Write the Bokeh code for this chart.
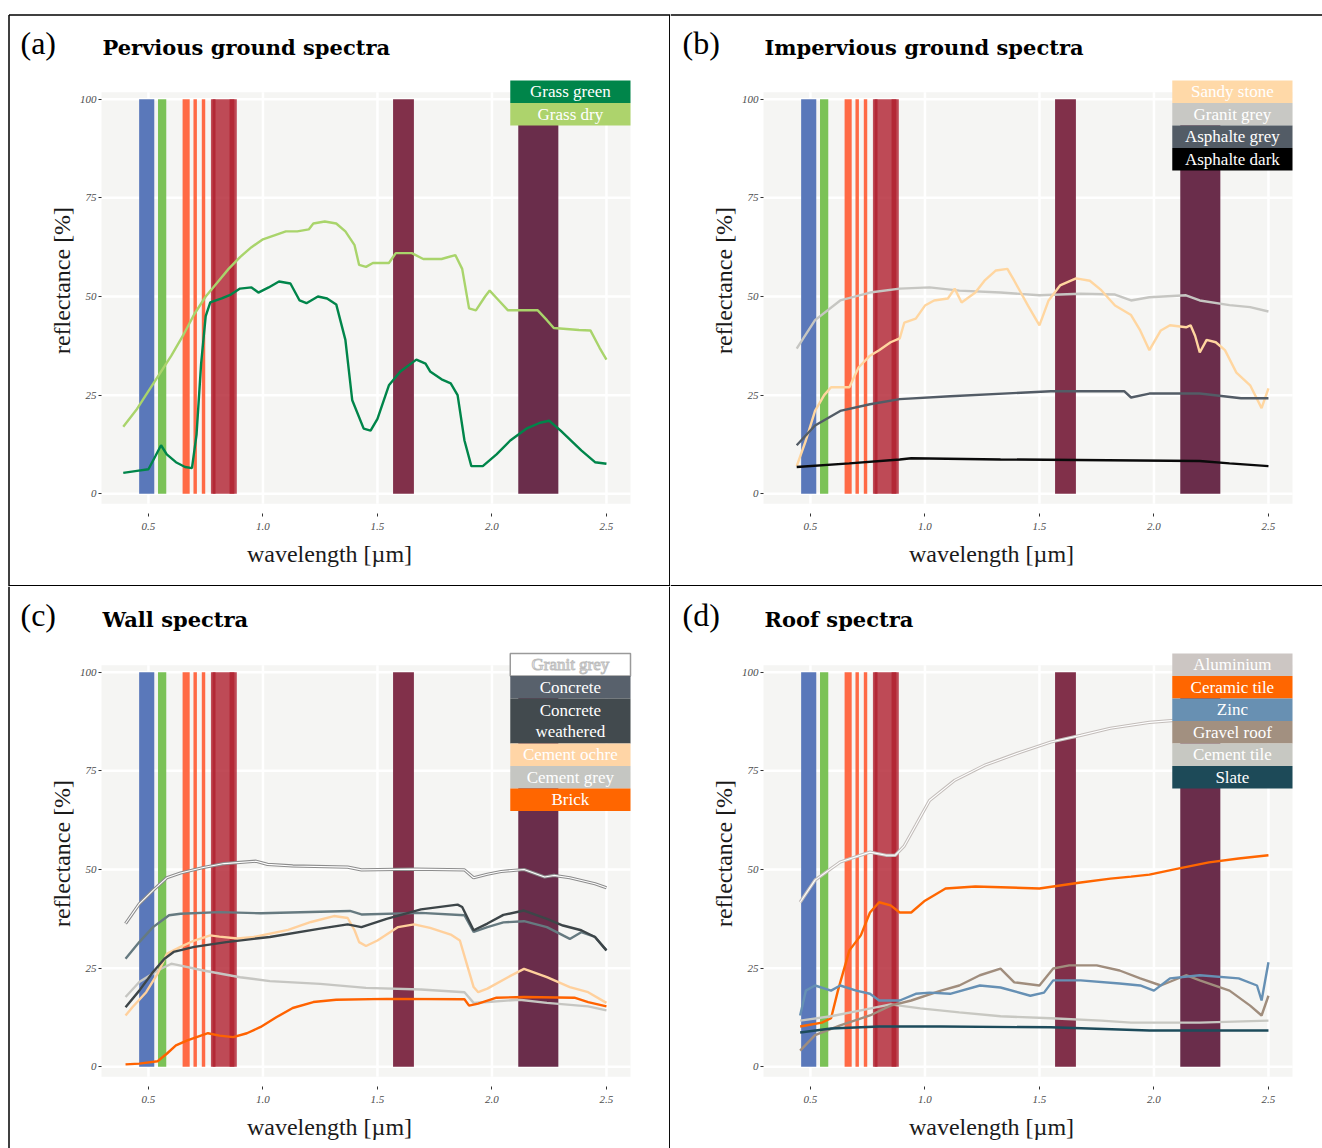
import numpy as np
from bokeh.plotting import figure
from bokeh.layouts import gridplot
from bokeh.models import Range1d, FixedTicker, NumeralTickFormatter
from bokeh.core.properties import value
from bokeh.embed import file_html
from bokeh.resources import INLINE

SERIF = "Liberation Serif"
TITLE_FONT = "DejaVu Serif"
PANEL_BG = "#F5F5F3"

# ---------------------------------------------------------------- data
# Sentinel-2 MSI band limits [µm] (B2, B3, B4, B5, B6, B8, B7, B8A, B11, B12)
band_lo = [0.4594, 0.5418, 0.6491, 0.6966, 0.7330, 0.7798, 0.7728, 0.8542, 1.5682, 2.1149]
band_hi = [0.5254, 0.5778, 0.6801, 0.7116, 0.7480, 0.8858, 0.7928, 0.8752, 1.6592, 2.2899]
band_colors = ["#5A78BA", "#7BC257", "#FF6A45", "#FF6A45", "#FF6A45",
               "#B01F2E", "#B01F2E", "#B01F2E", "#81304A", "#6A2D4B"]
band_alpha = [1, 1, 1, 1, 1, 0.8, 0.8, 0.8, 1, 1]

x_ticks = [0.5, 1.0, 1.5, 2.0, 2.5]
y_ticks = [0, 25, 50, 75, 100]

# (a) pervious ground
wl_grass_green = [0.39, 0.45, 0.50, 0.53, 0.555, 0.58, 0.62, 0.66, 0.69, 0.71, 0.73, 0.75, 0.77,
                  0.82, 0.86, 0.90, 0.95, 0.98, 1.025, 1.07, 1.12, 1.16, 1.19, 1.24, 1.28, 1.32,
                  1.36, 1.39, 1.44, 1.47, 1.50, 1.55, 1.60, 1.67, 1.71, 1.73, 1.78, 1.82, 1.85,
                  1.88, 1.91, 1.96, 2.02, 2.08, 2.15, 2.21, 2.25, 2.30, 2.39, 2.45, 2.50]
rf_grass_green = [5.3, 5.8, 6.2, 9.5, 12.3, 10.0, 8.0, 6.8, 6.5, 15.0, 33.0, 45.0, 48.5,
                  49.5, 50.5, 52.0, 52.3, 51.0, 52.3, 53.8, 53.3, 49.0, 48.3, 50.0, 49.5, 48.0,
                  39.0, 23.7, 16.5, 16.0, 19.0, 27.5, 31.0, 34.0, 33.0, 31.0, 29.0, 28.0, 25.0,
                  13.5, 7.0, 7.0, 10.0, 13.5, 16.5, 18.0, 18.5, 16.0, 11.0, 8.0, 7.6]
wl_grass_dry = [0.39, 0.45, 0.50, 0.55, 0.60, 0.65, 0.70, 0.75, 0.80, 0.85, 0.90, 0.95, 1.00,
                1.05, 1.10, 1.15, 1.20, 1.22, 1.27, 1.32, 1.36, 1.40, 1.42, 1.45, 1.48, 1.55,
                1.58, 1.65, 1.70, 1.78, 1.84, 1.87, 1.90, 1.93, 1.97, 1.99, 2.03, 2.07, 2.20,
                2.24, 2.27, 2.38, 2.43, 2.47, 2.50]
rf_grass_dry = [17.0, 21.5, 26.0, 30.5, 35.0, 40.0, 45.5, 50.0, 53.5, 57.0, 60.0, 62.5, 64.5,
                65.5, 66.5, 66.5, 67.0, 68.5, 69.0, 68.5, 66.5, 63.0, 58.0, 57.5, 58.5, 58.5,
                61.0, 61.0, 59.5, 59.5, 60.5, 57.0, 47.0, 46.5, 50.0, 51.5, 49.0, 46.5, 46.5,
                44.0, 42.0, 41.5, 41.4, 37.0, 34.0]

# (b) impervious ground
wl_sandy_stone = [0.44, 0.48, 0.52, 0.56, 0.59, 0.67, 0.71, 0.76, 0.80, 0.85, 0.89, 0.91, 0.96,
                  1.00, 1.04, 1.10, 1.13, 1.16, 1.22, 1.26, 1.31, 1.36, 1.39, 1.45, 1.50, 1.54,
                  1.59, 1.66, 1.72, 1.77, 1.83, 1.90, 1.94, 1.98, 2.03, 2.07, 2.14, 2.16, 2.18,
                  2.20, 2.23, 2.27, 2.31, 2.36, 2.42, 2.47, 2.50]
rf_sandy_stone = [7.0, 13.5, 21.0, 25.0, 27.0, 27.0, 32.0, 35.0, 36.4, 38.4, 39.4, 43.4, 44.4,
                  47.7, 49.0, 49.5, 52.0, 48.5, 51.0, 54.0, 56.6, 57.0, 54.0, 47.7, 42.7, 49.0,
                  52.8, 54.6, 54.0, 51.6, 47.7, 45.3, 41.4, 36.4, 41.4, 42.7, 42.2, 42.7, 40.0,
                  35.8, 39.0, 38.4, 36.4, 30.7, 27.5, 21.7, 26.7]
wl_granit_grey = [0.44, 0.52, 0.63, 0.76, 0.89, 1.02, 1.15, 1.33, 1.50, 1.68, 1.83, 1.90, 1.98,
                  2.14, 2.20, 2.33, 2.42, 2.50]
rf_granit_grey = [36.8, 44.0, 49.0, 51.0, 52.0, 52.3, 51.5, 51.0, 50.3, 50.7, 50.5, 49.0, 49.8,
                  50.3, 49.0, 47.8, 47.3, 46.2]
wl_asph_grey = [0.44, 0.52, 0.63, 0.76, 0.89, 1.11, 1.55, 1.87, 1.90, 1.98, 2.20, 2.38, 2.50]
rf_asph_grey = [12.3, 17.3, 21.0, 22.7, 24.0, 24.7, 26.0, 26.0, 24.4, 25.4, 25.4, 24.2, 24.2]
wl_asph_dark = [0.44, 0.67, 0.89, 0.94, 1.33, 2.20, 2.33, 2.50]
rf_asph_dark = [6.8, 7.7, 8.7, 9.0, 8.7, 8.3, 7.7, 7.0]

# (c) walls
wl_wall_granit = [0.40, 0.46, 0.52, 0.58, 0.64, 0.74, 0.83, 0.97, 1.02, 1.13, 1.37, 1.43, 1.66,
                  1.88, 1.92, 1.98, 2.04, 2.14, 2.23, 2.27, 2.34, 2.45, 2.50]
rf_wall_granit = [36.3, 41.3, 44.7, 47.9, 49.1, 50.5, 51.5, 52.1, 51.3, 50.9, 50.6, 49.9, 50.1,
                  49.9, 47.9, 48.8, 49.5, 50.0, 48.1, 48.5, 47.9, 46.4, 45.4]
wl_concrete = [0.40, 0.46, 0.52, 0.59, 0.64, 0.81, 0.99, 1.38, 1.43, 1.69, 1.88, 1.92, 1.98,
               2.05, 2.14, 2.24, 2.34, 2.39, 2.45, 2.50]
rf_concrete = [27.4, 31.6, 35.4, 38.4, 38.8, 39.2, 38.9, 39.5, 38.6, 39.0, 38.4, 34.2, 35.4,
               36.6, 36.9, 35.4, 32.4, 34.1, 32.9, 29.5]
wl_concrete_w = [0.40, 0.46, 0.52, 0.57, 0.61, 0.70, 0.84, 1.03, 1.25, 1.37, 1.43, 1.54, 1.69,
                 1.85, 1.87, 1.92, 1.98, 2.05, 2.14, 2.24, 2.31, 2.39, 2.45, 2.50]
rf_concrete_w = [15.1, 19.3, 24.0, 27.4, 29.1, 30.4, 31.6, 32.9, 35.0, 36.1, 35.4, 37.5, 39.9,
                 41.1, 40.5, 34.6, 36.3, 38.5, 39.6, 37.5, 35.8, 34.6, 32.9, 29.5]
wl_cement_ochre = [0.40, 0.43, 0.49, 0.54, 0.58, 0.64, 0.70, 0.77, 0.81, 0.89, 0.96, 1.11, 1.21,
                   1.31, 1.37, 1.40, 1.42, 1.45, 1.50, 1.59, 1.66, 1.73, 1.82, 1.86, 1.89, 1.92,
                   1.94, 1.98, 2.07, 2.14, 2.24, 2.34, 2.42, 2.50]
rf_cement_ochre = [13.0, 15.1, 18.9, 23.6, 28.6, 30.4, 32.0, 33.3, 33.0, 32.5, 32.9, 34.7, 36.7,
                   38.2, 37.7, 34.6, 31.6, 30.6, 32.0, 35.4, 36.1, 35.2, 33.5, 32.0, 26.1, 20.2,
                   18.9, 19.8, 22.7, 24.8, 22.7, 20.2, 18.9, 16.2]
wl_cement_grey = [0.40, 0.46, 0.54, 0.60, 0.62, 0.74, 0.90, 1.03, 1.25, 1.45, 1.69, 1.88, 1.92,
                  1.98, 2.12, 2.24, 2.42, 2.50]
rf_cement_grey = [17.7, 21.5, 24.4, 26.1, 25.9, 24.4, 22.7, 21.7, 21.0, 20.0, 19.6, 18.9, 16.2,
                  16.4, 17.0, 16.2, 15.3, 14.3]
wl_brick = [0.40, 0.46, 0.54, 0.58, 0.62, 0.67, 0.76, 0.81, 0.87, 0.93, 0.99, 1.06, 1.13, 1.22,
            1.32, 1.54, 1.88, 1.90, 1.94, 2.02, 2.14, 2.36, 2.42, 2.50]
rf_brick = [0.6, 0.8, 1.4, 3.3, 5.4, 6.7, 8.5, 7.9, 7.5, 8.5, 10.1, 12.6, 14.9, 16.4,
            17.0, 17.2, 17.1, 15.5, 16.0, 17.5, 17.7, 17.5, 16.4, 15.3]

# (d) roofs
wl_aluminium = [0.455, 0.52, 0.63, 0.76, 0.83, 0.87, 0.91, 0.96, 1.02, 1.13, 1.26, 1.42, 1.55,
                1.68, 1.81, 1.98, 2.09, 2.20, 2.35, 2.50]
rf_aluminium = [41.7, 47.3, 51.9, 54.4, 53.6, 53.6, 56.0, 61.2, 67.5, 72.6, 76.4, 79.8, 82.3,
                84.0, 85.8, 87.3, 87.8, 87.8, 89.0, 89.0]
wl_ceramic = [0.455, 0.55, 0.59, 0.62, 0.67, 0.72, 0.76, 0.80, 0.85, 0.89, 0.94, 1.00, 1.09,
              1.22, 1.50, 1.68, 1.81, 1.90, 1.98, 2.11, 2.24, 2.37, 2.50]
rf_ceramic = [10.2, 11.2, 12.3, 19.3, 29.5, 33.3, 39.1, 41.7, 40.9, 39.1, 39.1, 42.1, 45.2,
              45.7, 45.2, 46.7, 47.7, 48.2, 48.7, 50.3, 51.8, 52.8, 53.6]
wl_zinc = [0.455, 0.48, 0.52, 0.59, 0.63, 0.70, 0.76, 0.80, 0.89, 0.96, 1.02, 1.11, 1.24, 1.33,
           1.46, 1.52, 1.56, 1.68, 1.85, 1.94, 2.00, 2.07, 2.20, 2.37, 2.45, 2.47, 2.50]
rf_zinc = [13.0, 19.3, 20.6, 19.3, 20.6, 19.3, 18.5, 16.8, 16.8, 18.5, 18.8, 18.5, 20.6, 20.1,
           18.0, 18.8, 21.9, 21.9, 21.1, 20.6, 19.3, 22.4, 23.2, 22.4, 20.6, 16.8, 26.5]
wl_gravel = [0.455, 0.52, 0.63, 0.76, 0.85, 0.94, 1.07, 1.15, 1.24, 1.33, 1.39, 1.50, 1.56,
             1.63, 1.75, 1.85, 1.94, 2.03, 2.14, 2.20, 2.33, 2.42, 2.47, 2.50]
rf_gravel = [4.1, 8.0, 10.5, 13.0, 15.5, 16.8, 19.3, 20.6, 23.2, 24.9, 21.4, 20.6, 24.9,
             25.7, 25.7, 24.4, 22.4, 20.6, 23.2, 21.9, 19.3, 15.5, 13.0, 18.0]
wl_cement_tile = [0.455, 0.59, 0.72, 0.85, 0.98, 1.15, 1.33, 1.55, 1.77, 1.90, 2.20, 2.50]
rf_cement_tile = [11.7, 12.8, 14.3, 15.8, 14.8, 13.8, 12.8, 12.3, 11.7, 11.2, 11.2, 11.7]
wl_slate = [0.455, 0.59, 0.80, 1.07, 1.55, 1.98, 2.20, 2.50]
rf_slate = [8.7, 9.7, 10.2, 10.2, 10.0, 9.2, 9.2, 9.2]

# legend entries per panel: label, box colour
legend_a = [("Grass green", "#00854A"), ("Grass dry", "#ADD36C")]
legend_b = [("Sandy stone", "#FFD9A8"), ("Granit grey", "#C8C8C4"),
            ("Asphalte grey", "#535C66"), ("Asphalte dark", "#000000")]
legend_c = [("Granit grey", "#FFFFFF"), ("Concrete", "#58616C"),
            ("Concrete\nweathered", "#424A4E"), ("Cement ochre", "#FFD5A6"),
            ("Cement grey", "#C5C6C2"), ("Brick", "#FF6600")]
legend_d = [("Aluminium", "#CCC6C3"), ("Ceramic tile", "#FF6600"), ("Zinc", "#6890B2"),
            ("Gravel roof", "#A29080"), ("Cement tile", "#C7C8C2"), ("Slate", "#1D4A58")]

# ---------------------------------------------------------------- layout
FW, FH = 529, 434                 # size of the shaded plotting area in px
X0, X1 = 0.295, 2.605             # data limits of that area
Y0, Y1 = -5.0, 105.0
ROW_H = 5.70                      # legend row height in data units


def to_data(cx, cy, fl, ft):
    """Canvas pixel -> data coordinates for a panel whose plotting area starts at (fl, ft)."""
    return (X0 + (cx - fl) * (X1 - X0) / FW, Y1 - (cy - ft) * (Y1 - Y0) / FH)


def add_text(p, x, y, txt, size, font=SERIF, **kw):
    opts = dict(text_font=value(font), text_font_size=size, text_color="black",
                text_baseline="middle")
    opts.update(kw)
    p.text(x=[x], y=[y], text=[txt], **opts)


def make_panel(tag, title, series, legend, width, height, fl, ft, box_left, box_top, borders):
    kx = (X1 - X0) / FW
    ky = (Y1 - Y0) / FH
    xr = Range1d(X0 - fl * kx, X1 + (width - fl - FW) * kx)
    yr = Range1d(Y0 - (height - ft - FH) * ky, Y1 + ft * ky)
    p = figure(width=width, height=height, min_border=0, x_range=xr, y_range=yr,
               output_backend="svg", toolbar_location=None)
    p.background_fill_color = "white"
    p.border_fill_color = "white"
    p.outline_line_color = None
    p.grid.visible = False

    # axes sit on the edges of the shaded area
    p.xaxis.fixed_location = Y0
    p.yaxis.fixed_location = X0
    p.xaxis.ticker = FixedTicker(ticks=x_ticks)
    p.xaxis.formatter = NumeralTickFormatter(format="0.0")
    p.yaxis.ticker = FixedTicker(ticks=y_ticks)
    for ax in (p.xaxis[0], p.yaxis[0]):
        ax.axis_line_color = None
        ax.major_tick_line_color = "#333333"
        ax.major_tick_in = 0
        ax.major_tick_out = 3
        ax.minor_tick_line_color = None
        ax.major_label_text_font = SERIF
        ax.major_label_text_font_style = "italic"
        ax.major_label_text_font_size = "11px"
        ax.major_label_text_color = "#4D4D4D"
    p.xaxis.major_label_standoff = 6
    p.yaxis.major_label_standoff = 2

    # shaded panel and white grid
    p.quad(left=X0, right=X1, bottom=-2.5, top=101.8, fill_color=PANEL_BG, line_color=None)
    p.segment(x0=x_ticks, y0=-2.5, x1=x_ticks, y1=101.8, line_color="white", line_width=2.5)
    p.segment(x0=X0, y0=y_ticks, x1=X1, y1=y_ticks, line_color="white", line_width=2.5)

    # satellite bands
    p.quad(left=band_lo, right=band_hi, bottom=0, top=100,
           fill_color=band_colors, fill_alpha=band_alpha, line_color=None)

    # spectra
    for wl, rf, col, core in series:
        p.line(wl, rf, line_color=col, line_width=2.4 if core is None else 3.2)
        if core is not None:
            p.line(wl, rf, line_color=core, line_width=1.1)

    # legend boxes
    tops, bots, ys_c = [], [], []
    top = to_data(0, ft + 1, fl, ft)[1]
    for lab, col in legend:
        n = lab.count("\n") + 1
        tops.append(top)
        bots.append(top - n * ROW_H)
        ys_c.append(top - n * ROW_H / 2)
        top -= n * ROW_H
    lx0 = 2.08
    fills = [c for _, c in legend]
    edges = ["#9A9A9A" if c == "#FFFFFF" else None for c in fills]
    p.quad(left=lx0, right=X1, top=tops, bottom=bots, fill_color=fills,
           line_color=edges, line_width=1.5)
    xc = (lx0 + X1) / 2
    for (lab, col), yc in zip(legend, ys_c):
        kw = dict(text_color="white", text_align="center", text_line_height=1.1)
        if col == "#FFFFFF":
            kw["text_outline_color"] = "#BDBDBD"
        add_text(p, xc, yc, lab, "17px", **kw)

    # panel tag, title and axis titles
    add_text(p, *to_data(box_left + 12, box_top + 28, fl, ft), tag, "32px")
    add_text(p, *to_data(fl + 1, box_top + 33, fl, ft), title, "21px", font=TITLE_FONT,
             text_font_style="bold")
    add_text(p, *to_data(fl + 228, ft + FH + 40, fl, ft), "wavelength [µm]", "24px",
             text_align="center", text_color="#1A1A1A")
    add_text(p, *to_data(box_left + 53, ft + 201, fl, ft), "reflectance [%]", "24px",
             text_align="center", text_color="#1A1A1A", angle=np.pi / 2)

    # frame lines between the panels
    for cx0, cy0, cx1, cy1 in borders:
        xa, ya = to_data(cx0, cy0, fl, ft)
        xb, yb = to_data(cx1, cy1, fl, ft)
        p.segment(x0=[xa], y0=[ya], x1=[xb], y1=[yb], line_color="black", line_width=1.5)
    return p


series_a = [(wl_grass_dry, rf_grass_dry, "#A9D46B", None),
            (wl_grass_green, rf_grass_green, "#00854A", None)]
series_b = [(wl_granit_grey, rf_granit_grey, "#C6C6C2", None),
            (wl_sandy_stone, rf_sandy_stone, "#FFD6A0", None),
            (wl_asph_grey, rf_asph_grey, "#535C66", None),
            (wl_asph_dark, rf_asph_dark, "#0A0A0A", None)]
series_c = [(wl_cement_grey, rf_cement_grey, "#C6C6C2", None),
            (wl_cement_ochre, rf_cement_ochre, "#FFD09C", None),
            (wl_brick, rf_brick, "#FF6200", None),
            (wl_concrete, rf_concrete, "#667A80", None),
            (wl_concrete_w, rf_concrete_w, "#3D4548", None),
            (wl_wall_granit, rf_wall_granit, "#8C8C8C", "white")]
series_d = [(wl_aluminium, rf_aluminium, "#C3BDBA", "white"),
            (wl_ceramic, rf_ceramic, "#FF6600", None),
            (wl_cement_tile, rf_cement_tile, "#C8C8C2", None),
            (wl_gravel, rf_gravel, "#A08D7D", None),
            (wl_zinc, rf_zinc, "#6690B4", None),
            (wl_slate, rf_slate, "#1D4B5B", None)]

pa = make_panel("(a)", "Pervious ground spectra", series_a, legend_a, 670, 586, 101, 79, 8, 14,
                [(8.5, 14.5, 670, 14.5), (8.5, 14.5, 8.5, 586),
                 (669.3, 14.5, 669.3, 586), (8.5, 585.3, 670, 585.3)])
pb = make_panel("(b)", "Impervious ground spectra", series_b, legend_b, 652, 586, 93, 79, 0, 14,
                [(0, 14.5, 652, 14.5), (0, 585.3, 652, 585.3)])
pc = make_panel("(c)", "Wall spectra", series_c, legend_c, 670, 562, 101, 66, 8, 0,
                [(8.5, 0, 8.5, 562), (669.3, 0, 669.3, 562)])
pd_ = make_panel("(d)", "Roof spectra", series_d, legend_d, 652, 562, 93, 66, 0, 0, [])

grid = gridplot([[pa, pb], [pc, pd_]], toolbar_location=None)

open("out.html", "w").write(file_html(grid, INLINE))
